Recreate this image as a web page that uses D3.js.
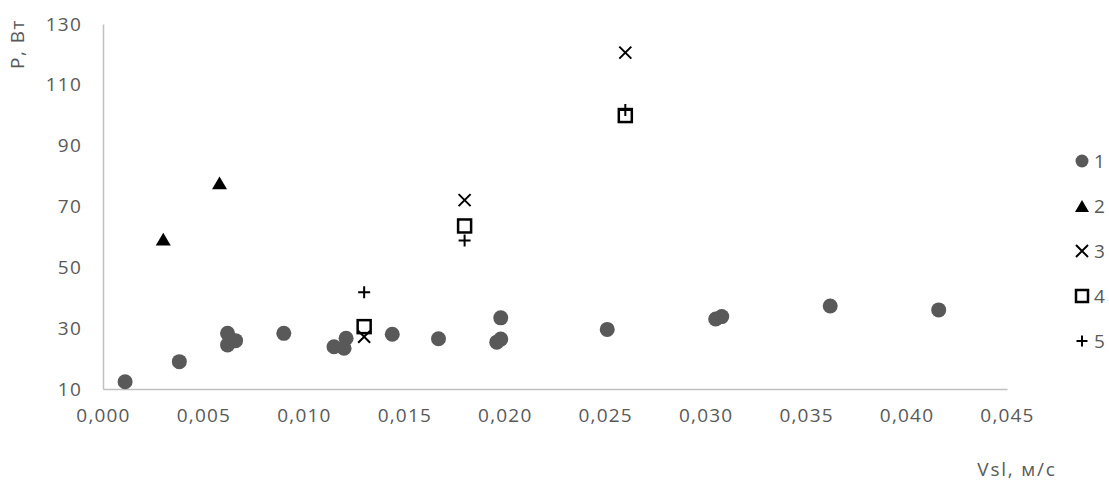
<!DOCTYPE html>
<html>
<head>
<meta charset="utf-8">
<script src="https://cdn.jsdelivr.net/npm/d3@7"></script>
<style>
  html, body { margin: 0; padding: 0; background: #fff; }
  svg { display: block; }
  text { font-family: "Open Sans", "Liberation Sans", sans-serif; fill: #595959; }
</style>
</head>
<body>
<svg id="chart" width="1109" height="483"></svg>
<script>
// Series 1 (circles)
const s1x = [0.0011, 0.0038, 0.0062, 0.0062, 0.0066, 0.0090, 0.0115, 0.0121, 0.0120, 0.0144, 0.0167, 0.0198, 0.0196, 0.0198, 0.0251, 0.0305, 0.0308, 0.0362, 0.0416];
const s1y = [12.4, 19.0, 28.3, 24.5, 25.9, 28.3, 23.9, 26.7, 23.4, 28.0, 26.5, 33.4, 25.4, 26.4, 29.6, 33.0, 33.8, 37.3, 36.0];
// Series 2 (triangles)
const s2x = [0.0030, 0.0058];
const s2y = [59.3, 77.8];
// Series 3 (x)
const s3x = [0.0130, 0.0180, 0.0260];
const s3y = [27.2, 72.1, 120.6];
// Series 4 (squares)
const s4x = [0.0130, 0.0180, 0.0260];
const s4y = [30.5, 63.6, 99.9];
// Series 5 (plus)
const s5x = [0.0130, 0.0180, 0.0260];
const s5y = [41.8, 58.8, 101.7];

const seriesNames = ["1", "2", "3", "4", "5"];
const xTicks = [0, 0.005, 0.010, 0.015, 0.020, 0.025, 0.030, 0.035, 0.040, 0.045];
const yTicks = [10, 30, 50, 70, 90, 110, 130];
const xTitle = "Vsl, м/с";
const yTitle = "P, Вт";

const svg = d3.select("#chart");
const x = d3.scaleLinear().domain([0, 0.045]).range([103, 1007]);
const y = d3.scaleLinear().domain([10, 130]).range([389, 24]);

const fmtX = v => d3.format(".3f")(v).replace(".", ",");
const FS = 19, LS = 1.2;

// axes
const gx = svg.append("g").attr("transform", `translate(0,${y(10)})`)
  .call(d3.axisBottom(x).tickValues(xTicks).tickFormat(fmtX).tickSize(0).tickPadding(20));
gx.select(".domain").attr("stroke", "#c0c0c0").attr("stroke-width", 1.5);
gx.selectAll("text").attr("font-size", FS).attr("fill", "#595959").attr("letter-spacing", LS)
  .attr("font-family", '"Open Sans", sans-serif');

const gy = svg.append("g").attr("transform", `translate(${x(0)},0)`)
  .call(d3.axisLeft(y).tickValues(yTicks).tickSize(0).tickPadding(21));
gy.select(".domain").attr("stroke", "#c0c0c0").attr("stroke-width", 1.5);
gy.selectAll("text").attr("font-size", FS).attr("fill", "#595959").attr("letter-spacing", LS)
  .attr("font-family", '"Open Sans", sans-serif');

// titles
svg.append("text").attr("x", 1017).attr("y", 476).attr("text-anchor", "middle")
  .attr("font-size", FS).attr("letter-spacing", 1.8).text(xTitle);
svg.append("text").attr("transform", "translate(24,44) rotate(-90)").attr("text-anchor", "middle")
  .attr("font-size", FS).attr("letter-spacing", 1.5).text(yTitle);

// marker drawers
function drawCircle(g, cx, cy, s) {
  g.append("circle").attr("cx", cx).attr("cy", cy).attr("r", s / 2).attr("fill", "#595959");
}
function drawTri(g, cx, cy, s) {
  const h = s * 0.85;
  g.append("path").attr("d", `M${cx},${cy - h / 2}L${cx + s / 2},${cy + h / 2}L${cx - s / 2},${cy + h / 2}Z`).attr("fill", "#000");
}
function drawX(g, cx, cy, s) {
  const r = s / 2;
  g.append("path").attr("d", `M${cx - r},${cy - r}L${cx + r},${cy + r}M${cx - r},${cy + r}L${cx + r},${cy - r}`)
    .attr("stroke", "#000").attr("stroke-width", 2).attr("fill", "none");
}
function drawSq(g, cx, cy, s) {
  g.append("rect").attr("x", cx - s / 2).attr("y", cy - s / 2).attr("width", s).attr("height", s)
    .attr("fill", "none").attr("stroke", "#000").attr("stroke-width", 2.5);
}
function drawPlus(g, cx, cy, s) {
  const r = s / 2;
  g.append("path").attr("d", `M${cx - r},${cy}L${cx + r},${cy}M${cx},${cy - r}L${cx},${cy + r}`)
    .attr("stroke", "#000").attr("stroke-width", 2).attr("fill", "none");
}

const series = [
  { xs: s1x, ys: s1y, draw: drawCircle, size: 15, lsize: 13 },
  { xs: s2x, ys: s2y, draw: drawTri, size: 15, lsize: 14 },
  { xs: s3x, ys: s3y, draw: drawX, size: 12, lsize: 12 },
  { xs: s4x, ys: s4y, draw: drawSq, size: 13, lsize: 12 },
  { xs: s5x, ys: s5y, draw: drawPlus, size: 12, lsize: 11 }
];

const plot = svg.append("g");
series.forEach(s => {
  const g = plot.append("g");
  s.xs.forEach((xv, i) => s.draw(g, x(xv), y(s.ys[i]), s.size));
});

// legend
const leg = svg.append("g");
series.forEach((s, i) => {
  const cy = 161 + i * 45;
  s.draw(leg, 1082, cy, s.lsize);
  leg.append("text").attr("x", 1094).attr("y", cy).attr("dy", "0.35em")
    .attr("font-size", FS).text(seriesNames[i]);
});
</script>
</body>
</html>
